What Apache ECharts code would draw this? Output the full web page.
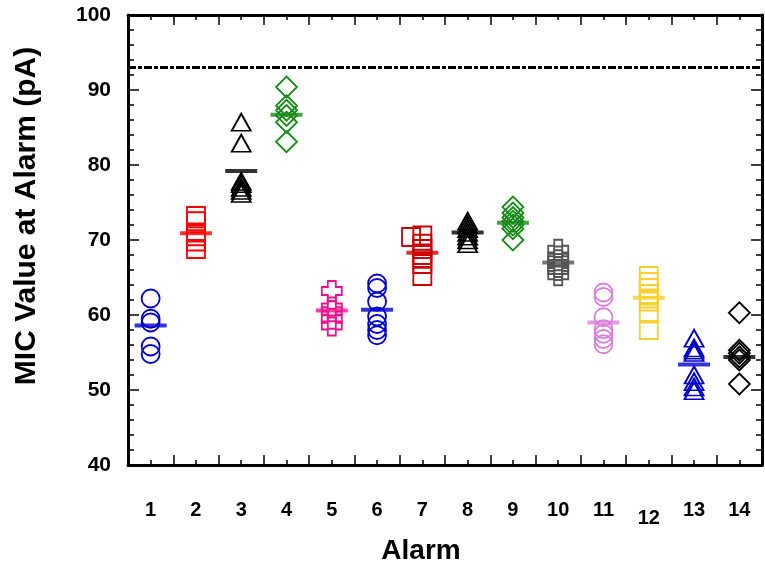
<!DOCTYPE html>
<html><head><meta charset="utf-8">
<script src="https://cdn.jsdelivr.net/npm/echarts@6/dist/echarts.min.js"></script>
<style>html,body{margin:0;padding:0;background:#fff}#c{width:765px;height:565px}</style>
</head><body><div id="c"></div>
<script>
// ---- data ----
const alarms = [1,2,3,4,5,6,7,8,9,10,11,12,13,14];
const alarm1  = [62.2, 59.5, 59.0, 55.8, 54.8];
const alarm2  = [73.2, 72.5, 71.0, 70.5, 69.8, 68.8];
const alarm3  = [85.7, 82.9, 77.8, 77.5, 77.0, 76.6, 76.2];
const alarm4  = [90.4, 87.9, 87.3, 86.6, 85.7, 83.1];
const alarm5  = [63.2, 61.0, 60.5, 59.5, 58.6];
const alarm6  = [64.2, 63.6, 61.8, 59.8, 58.8, 58.0, 57.3];
const alarm7  = [70.6, 69.5, 68.8, 68.0, 67.5, 66.8, 65.2];
const alarm7Left = [70.4];          // one reading drawn slightly left of the column
const alarm8  = [72.5, 72.0, 71.5, 71.0, 70.5, 70.0, 69.5];
const alarm9  = [74.4, 73.6, 73.0, 72.5, 72.0, 71.5, 70.0];
const alarm10 = [68.7, 67.8, 67.3, 66.8, 66.4, 66.0, 65.3];
const alarm11 = [63.0, 62.4, 59.7, 58.1, 57.5, 56.8, 56.1];
const alarm12 = [65.2, 64.4, 63.6, 62.8, 62.2, 61.8, 60.2, 58.0];
const alarm13 = [56.9, 55.6, 55.3, 55.0, 52.0, 51.1, 50.4, 49.9];
const alarm14 = [60.3, 55.3, 54.9, 54.4, 54.0, 50.8];
const means   = [58.6, 70.9, 79.2, 86.7, 60.6, 60.7, 68.3, 71.0, 72.3, 67.0, 59.0, 62.3, 53.4, 54.4];
const threshold = 93;
const yTicks = [40, 50, 60, 70, 80, 90, 100];

const groups = [alarm1,alarm2,alarm3,alarm4,alarm5,alarm6,alarm7,alarm8,alarm9,alarm10,alarm11,alarm12,alarm13,alarm14];
const colors = ['#0000CC','#FF0000','#000000','#1A8A1A','#F0108C','#0000CC','#CC0000','#000000','#1A8A1A','#555555','#DA80DA','#F8D030','#0000CC','#000000'];
const CROSS = 'path://M3,0H7V3H10V7H7V10H3V7H0V3H3Z';
const shapes = ['circle','rect','triangle','diamond',CROSS,'circle','rect','triangle','diamond',CROSS,'circle','rect','triangle','diamond'];
const sizes = {circle:18, rect:18, triangle:[19,17], diamond:21};
sizes[CROSS] = 20;

const series = [];
groups.forEach((vals, i) => {
  const pts = vals.map(v => [alarms[i], v]);
  if (alarms[i] === 7) alarm7Left.forEach(v => pts.push([alarms[i] - 0.25, v]));
  series.push({
    type: 'scatter', xAxisIndex: 0, yAxisIndex: 0,
    data: pts, symbol: shapes[i], symbolSize: sizes[shapes[i]],
    itemStyle: { color: 'rgba(0,0,0,0)', borderColor: colors[i], borderWidth: 1.8, opacity: 1 },
    emphasis: { disabled: true }, silent: true, z: 2
  });
});
series.push({
  type: 'scatter', xAxisIndex: 0, yAxisIndex: 0,
  data: means.map((m, i) => ({ value: [alarms[i], m], itemStyle: { color: colors[i] } })),
  symbol: 'rect', symbolSize: [32, 4], silent: true, z: 5
});
series.push({
  type: 'line', xAxisIndex: 0, yAxisIndex: 0,
  data: [[0.5, threshold], [14.5, threshold]], symbol: 'none', silent: true, z: 3,
  lineStyle: { color: '#000', width: 3, type: [8, 2, 4, 2] }
});

const font = 'Liberation Sans, Arial, sans-serif';
function xAx(pos, interval, len, labels) {
  return {
    type: 'value', position: pos, min: 0.5, max: 14.5, interval: interval,
    axisLine: { show: interval === 0.5, lineStyle: { color: '#000', width: 3 } },
    axisTick: { show: true, inside: true, length: len, lineStyle: { color: '#000', width: 1.5 } },
    axisLabel: labels ? {
      show: true, margin: 35, color: '#000', fontSize: 20, fontWeight: 'bold', fontFamily: font,
      formatter: v => {
        if (Math.abs(v - Math.round(v)) > 1e-6) return '';
        return v === 12 ? '{low|12}' : String(v);
      },
      rich: { low: { fontSize: 20, fontWeight: 'bold', fontFamily: font, color: '#000', padding: [8, 0, 0, 0] } }
    } : { show: false },
    splitLine: { show: false }
  };
}
function yAx(pos, labels) {
  return {
    type: 'value', position: pos, min: 40, max: 100, interval: 10,
    axisLine: { show: true, lineStyle: { color: '#000', width: 3 } },
    axisTick: { show: true, inside: true, length: 11, lineStyle: { color: '#000', width: 1.5 } },
    minorTick: { show: true, splitNumber: 5, length: 6, lineStyle: { color: '#000', width: 1.5 } },
    axisLabel: labels ? { show: true, margin: 17, color: '#000', fontSize: 21, fontWeight: 'bold', fontFamily: font,
      formatter: v => yTicks.includes(v) ? String(v) : '' } : { show: false },
    splitLine: { show: false }
  };
}

const chart = echarts.init(document.getElementById('c'), null, { renderer: 'canvas' });
chart.setOption({
  animation: false,
  backgroundColor: '#fff',
  grid: { left: 128, top: 15, right: 3, bottom: 100, containLabel: false },
  xAxis: [xAx('bottom', 0.5, 5, true), xAx('bottom', 1, 10, false), xAx('top', 0.5, 5, false), xAx('top', 1, 10, false)],
  yAxis: [yAx('left', true), yAx('right', false)],
  graphic: [
    { type: 'text', x: 421, y: 551, style: { text: 'Alarm', fontSize: 28, fontWeight: 'bold', fontFamily: font, fill: '#000', align: 'center', verticalAlign: 'middle' } },
    { type: 'text', x: 27, y: 216, rotation: Math.PI / 2, style: { text: 'MIC Value at Alarm (pA)', fontSize: 30, fontWeight: 'bold', fontFamily: font, fill: '#000', align: 'center', verticalAlign: 'middle' } }
  ],
  series: series
});
</script></body></html>
